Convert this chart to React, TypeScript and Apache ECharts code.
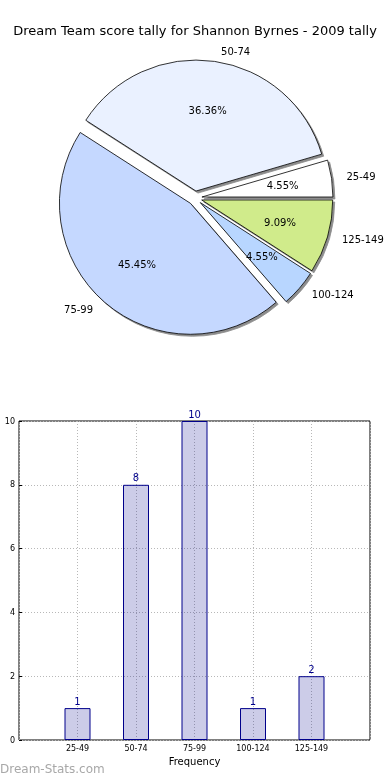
import React, { useEffect, useRef } from "react";
import * as echarts from "echarts";

const titleText = "Dream Team score tally for Shannon Byrnes - 2009 tally";
const categories = ["25-49", "50-74", "75-99", "100-124", "125-149"];
const counts = [1, 8, 10, 1, 2];
const sliceColors = ["#ffffff", "#eaf1ff", "#c5d8ff", "#b8d6ff", "#d0eb8b"];
const yTicks = { min: 0, max: 10, interval: 2 };
const xAxisName = "Frequency";
const yAxisName = "Number of Rounds";
const watermark = "Dream-Stats.com";

const FONT = "DejaVu Sans";

export default function App() {
  const ref = useRef<HTMLDivElement>(null);
  useEffect(() => {
    if (!ref.current) return;
    const chart = echarts.init(ref.current, null, { renderer: "svg" });
    const total = counts.reduce((a, b) => a + b, 0);
    const R = 131;
    const CENTER = [195, 198];
    const pieData = categories.map((c, i) => ({
      name: c,
      value: counts[i],
      selected: true,
      itemStyle: { color: sliceColors[i] },
    }));
    const innerData = categories.map((c, i) => ({
      name: c,
      value: counts[i],
      selected: true,
    }));
    const paddedCats = ["", ...categories, ""];
    const paddedCounts = [null, ...counts, null];

    chart.setOption({
      animation: false,
      textStyle: { fontFamily: FONT },
      title: {
        text: titleText,
        left: "center",
        top: 19,
        textStyle: { fontFamily: FONT, fontSize: 13, fontWeight: "normal", color: "#000" },
      },
      graphic: [
        {
          type: "text",
          left: 0,
          top: 763,
          style: { text: watermark, fill: "#a8a8a8", font: `12px "${FONT}"` },
        },
      ],
      grid: {
        left: 19,
        right: 20,
        top: 421,
        bottom: 40,
        containLabel: false,
        outerBoundsMode: "none",
        show: true,
        borderColor: "#000",
        borderWidth: 1,
        backgroundColor: "transparent",
      },
      xAxis: {
        type: "category",
        data: paddedCats,
        boundaryGap: false,
        axisLine: { show: false },
        axisTick: { show: false },
        axisLabel: { fontSize: 8, color: "#000", margin: 4, fontFamily: FONT, interval: 0 },
        splitLine: { show: true, lineStyle: { color: "#b8b8b8", type: [1, 2], width: 1 } },
        name: xAxisName,
        nameLocation: "middle",
        nameGap: 16,
        nameTextStyle: { fontSize: 10, color: "#000", fontFamily: FONT },
      },
      yAxis: {
        type: "value",
        min: yTicks.min,
        max: yTicks.max,
        interval: yTicks.interval,
        axisLine: { show: false },
        axisTick: { show: true, inside: true, length: 3, lineStyle: { color: "#000" } },
        axisLabel: { fontSize: 8, color: "#000", margin: 4, fontFamily: FONT },
        splitLine: { show: true, lineStyle: { color: "#b8b8b8", type: [1, 2], width: 1 } },
        name: yAxisName,
        nameLocation: "middle",
        nameGap: 21,
        nameRotate: 90,
        nameTextStyle: { fontSize: 10, color: "#000", fontFamily: FONT },
      },
      series: [
        {
          type: "pie",
          center: CENTER,
          radius: [0, R],
          startAngle: 0,
          clockwise: false,
          selectedMode: "multiple",
          selectedOffset: 7,
          avoidLabelOverlap: false,
          data: pieData,
          itemStyle: {
            borderColor: "#000",
            borderWidth: 0.8,
            shadowColor: "rgba(0,0,0,0.45)",
            shadowOffsetX: 2,
            shadowOffsetY: 2,
            shadowBlur: 1,
          },
          emphasis: { disabled: true },
          label: {
            show: true,
            position: "outside",
            fontSize: 10,
            color: "#000",
            fontFamily: FONT,
            formatter: "{b}",
          },
          labelLine: { show: false, length: 10, length2: 0 },
        },
        {
          type: "pie",
          center: CENTER,
          radius: [R * 0.2, R],
          startAngle: 0,
          clockwise: false,
          selectedMode: "multiple",
          selectedOffset: 7,
          avoidLabelOverlap: false,
          silent: true,
          data: innerData,
          itemStyle: { color: "transparent", borderWidth: 0 },
          emphasis: { disabled: true },
          label: {
            show: true,
            position: "inside",
            fontSize: 10,
            color: "#000",
            fontFamily: FONT,
            formatter: (p: any) => ((p.value / total) * 100).toFixed(2) + "%",
          },
          labelLine: { show: false },
        },
        {
          type: "bar",
          data: paddedCounts,
          barWidth: 26,
          itemStyle: {
            color: "rgba(0,0,139,0.2)",
            borderColor: "#00008b",
            borderWidth: 1,
          },
          label: {
            show: true,
            position: "top",
            distance: 2,
            fontSize: 10,
            color: "#00008b",
            fontFamily: FONT,
          },
          emphasis: { disabled: true },
        },
      ],
    });
    return () => chart.dispose();
  }, []);
  return (
    <div
      ref={ref}
      style={{ position: "fixed", left: 0, top: 0, width: 390, height: 780 }}
    />
  );
}
